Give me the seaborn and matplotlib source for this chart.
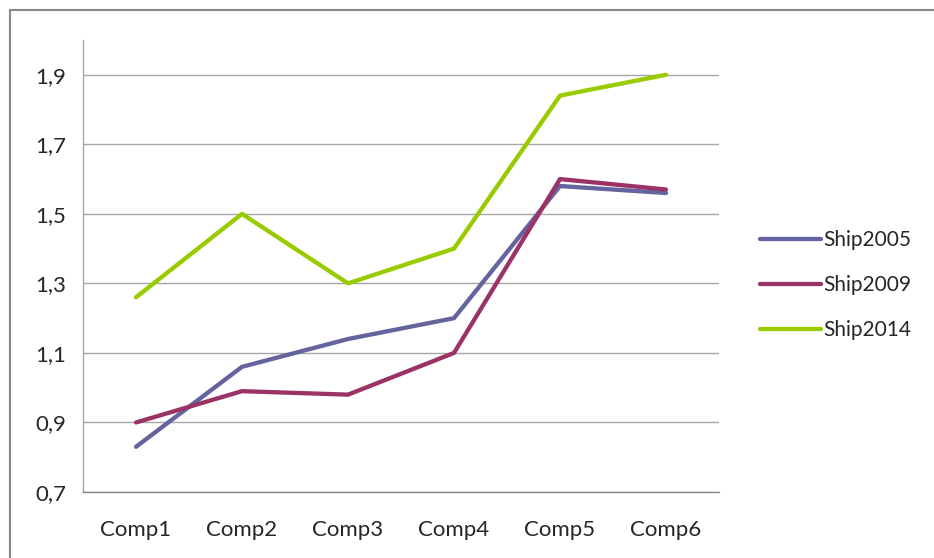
import matplotlib
matplotlib.use("Agg")
import matplotlib.pyplot as plt
import matplotlib.patches as mpatches
import seaborn as sns
import pandas as pd
import numpy as np

categories = ["Comp1", "Comp2", "Comp3", "Comp4", "Comp5", "Comp6"]
ship2005 = [0.83, 1.06, 1.14, 1.20, 1.58, 1.56]
ship2009 = [0.90, 0.99, 0.98, 1.10, 1.60, 1.57]
ship2014 = [1.26, 1.50, 1.30, 1.40, 1.84, 1.90]
series_names = ["Ship2005", "Ship2009", "Ship2014"]
yticks = [0.7, 0.9, 1.1, 1.3, 1.5, 1.7, 1.9]
ytick_labels = ["0,7", "0,9", "1,1", "1,3", "1,5", "1,7", "1,9"]

colors = {"Ship2005": "#64649E", "Ship2009": "#9B3366", "Ship2014": "#99CC00"}

rows = []
for name, vals in zip(series_names, [ship2005, ship2009, ship2014]):
    for i, (c, v) in enumerate(zip(categories, vals)):
        rows.append({"idx": i, "cat": c, "value": v, "series": name})
df = pd.DataFrame(rows)

sns.set_style("white")
plt.rcParams['font.family'] = ['Lato', 'DejaVu Sans']

W, H = 934, 558
fig = plt.figure(figsize=(W/100, H/100), dpi=100)
ax = fig.add_axes([83/W, 1-492/H, (719-83)/W, (492-40)/H])

sns.lineplot(data=df, x="idx", y="value", hue="series", palette=colors,
             linewidth=3.1, ax=ax, legend=False, sort=False)

ax.set_xlim(-0.5, 5.5)
ax.set_ylim(0.7, 2.0)
ax.set_yticks(yticks)
ax.set_yticklabels(ytick_labels, fontsize=16)
ax.yaxis.grid(True, color="#A6A6A6", linewidth=1)
ax.set_axisbelow(True)
ax.set_xticks(np.arange(6))
ax.set_xticklabels(categories, fontsize=16)
ax.tick_params(axis="x", length=0, pad=20)
ax.set_xticks(np.arange(-0.5, 6.0, 1.0), minor=True)
ax.tick_params(axis="x", which="minor", length=6, color="#888888", width=1)
ax.tick_params(axis="y", length=6, color="#A6A6A6", width=1, pad=6)
ax.set_xlabel("")
ax.set_ylabel("")
for s in ["top", "right"]:
    ax.spines[s].set_visible(False)
ax.spines["left"].set_color("#A6A6A6")
ax.spines["bottom"].set_color("#888888")
ax.spines["left"].set_linewidth(1)
ax.spines["bottom"].set_linewidth(1)

handles = [plt.Line2D([], [], color=colors[n], linewidth=3.1) for n in series_names]
fig.legend(handles, series_names, loc="upper left",
           bbox_to_anchor=(752/W, 1-222/H), frameon=False, fontsize=15,
           handlelength=2.9, handletextpad=0.1, labelspacing=1.2, borderaxespad=0)

border = mpatches.Rectangle((9.5/W, -0.05), 1.2, 1-10.5/H+0.05, transform=fig.transFigure,
                            fill=False, edgecolor="#888888", linewidth=1.5)
fig.patches.append(border)

fig.savefig("out.png", dpi=100)
